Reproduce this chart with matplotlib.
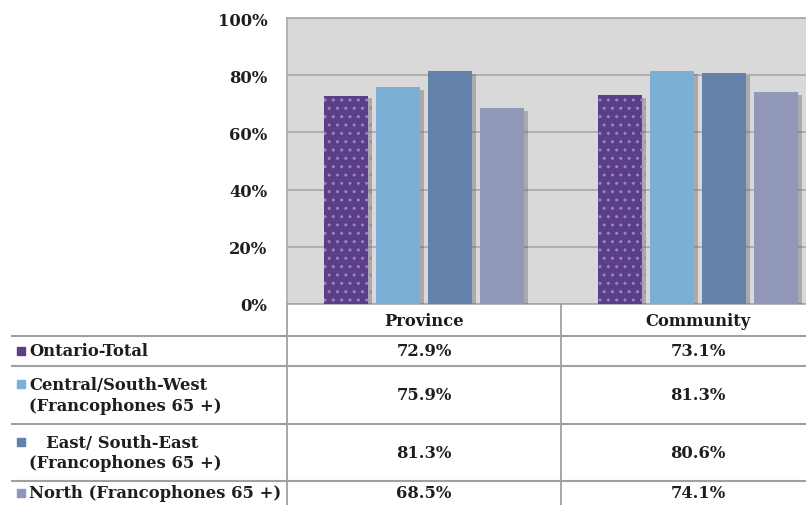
import matplotlib
matplotlib.use("Agg")
import matplotlib.pyplot as plt
import matplotlib.patheffects as pe
from matplotlib.lines import Line2D
from matplotlib.patches import Rectangle
import numpy as np

categories = ["Province", "Community"]
series_labels = ["Ontario-Total", "Central/South-West\n(Francophones 65 +)",
                 "   East/ South-East\n(Francophones 65 +)", "North (Francophones 65 +)"]
ontario_total = [72.9, 73.1]
central_sw = [75.9, 81.3]
east_se = [81.3, 80.6]
north = [68.5, 74.1]
values = [ontario_total, central_sw, east_se, north]
colors = ["#5B3F86", "#7BAFD6", "#6382AA", "#9197B6"]
yticks = [0, 20, 40, 60, 80, 100]

plt.rcParams['font.family'] = ['DejaVu Serif']
W, H = 806, 506
fig = plt.figure(figsize=(W/100, H/100), dpi=100)
fig.patch.set_facecolor("white")

def fx(x): return x / W
def fy(y): return 1 - y / H

FS = 11.8
TC = "#1E1E1E"

ax_l, ax_r, ax_t, ax_b = 287, 835, 19, 305
ax = fig.add_axes([fx(ax_l), fy(ax_b), (ax_r-ax_l)/W, (ax_b-ax_t)/H])
ax.set_facecolor("#D9D9D9")
ax.set_xlim(-0.5, 1.5)
ax.set_ylim(0, 100)
ax.set_yticks(yticks)
ax.set_yticklabels([f"{t}%" for t in yticks], fontsize=FS, fontweight="bold", color=TC)
ax.set_xticks([])
ax.tick_params(axis="y", length=0, pad=14)
ax.grid(axis="y", color="#A8A8A8", linewidth=1.2)
ax.set_axisbelow(True)
for s in ax.spines.values():
    s.set_color("#A8A8A8")
    s.set_linewidth(1.2)

x = np.arange(len(categories))
bw = 0.162
step = 0.19
shadow = [pe.SimplePatchShadow(offset=(3, -2), alpha=0.35, shadow_rgbFace="#555555"), pe.Normal()]
for i, (vals, c) in enumerate(zip(values, colors)):
    off = (i - 1.5) * step
    if i == 0:
        bars = ax.bar(x + off, vals, bw, color=c, edgecolor="#9A84C2", linewidth=0, hatch="..", zorder=3)
    else:
        bars = ax.bar(x + off, vals, bw, color=c, linewidth=0, zorder=3)
    for b in bars:
        b.set_path_effects(shadow)

# table
lc = "#A0A0A0"
col_x = [287, 561, 835]
row_y = [305, 337, 367, 425, 482, 520]
for y in row_y[1:]:
    fig.add_artist(Line2D([fx(12), fx(806)], [fy(y), fy(y)], color=lc, lw=1.5))
for xv in col_x[:2]:
    fig.add_artist(Line2D([fx(xv), fx(xv)], [fy(305), fy(506)], color=lc, lw=1.3))

txt_kw = dict(fontsize=FS, fontweight="bold", color=TC)
for j, cat in enumerate(categories):
    cx = (col_x[j] + col_x[j+1]) / 2
    fig.text(fx(cx), fy(321), cat, ha="center", va="center", **txt_kw)
    for i, vals in enumerate(values):
        cy = (row_y[i+1] + row_y[i+2]) / 2 if i < 3 else 494
        fig.text(fx(cx), fy(cy), f"{vals[j]:.1f}%", ha="center", va="center", **txt_kw)

for i, (lab, c) in enumerate(zip(series_labels, colors)):
    cy = (row_y[i+1] + row_y[i+2]) / 2 if i < 3 else 494
    sq_y = cy if i == 0 or i == 3 else cy - 11
    fig.add_artist(Rectangle((fx(17), fy(sq_y + 4)), 8/W, 8/H, color=c, transform=fig.transFigure))
    fig.text(fx(29), fy(cy), lab, ha="left", va="center", linespacing=1.3, **txt_kw)

fig.savefig("out.png", dpi=100)
